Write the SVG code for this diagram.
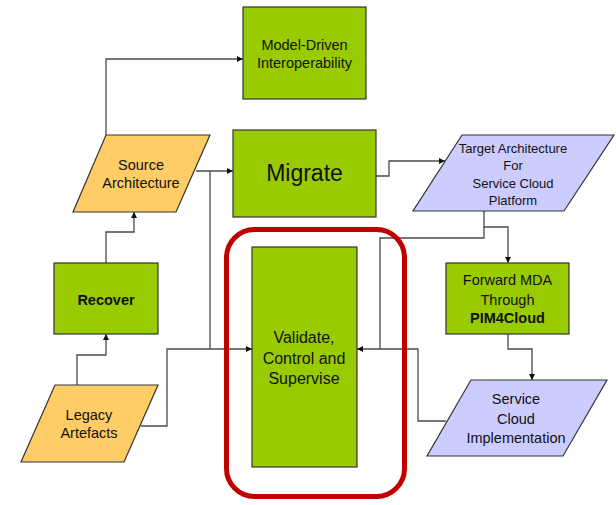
<svg xmlns="http://www.w3.org/2000/svg" width="616" height="505" viewBox="0 0 616 505">
  <style>
    .proc { fill: #99cc00; stroke: #333333; stroke-width: 1.2; }
    .src { fill: #ffcc66; stroke: #333333; stroke-width: 1.2; }
    .tgt { fill: #ccccff; stroke: #333333; stroke-width: 1.2; }
    .lbl { font-family: "Liberation Sans", Arial, sans-serif; font-size: 14.5px; fill: #111111; text-anchor: middle; }
    .bold { font-weight: bold; }
    .edge { fill: none; stroke: #4a4a4a; stroke-width: 1.3; }
    .arrow { marker-end: url(#head); }
  </style>
  <defs>
    <marker id="head" viewBox="0 0 8 8" refX="8" refY="4" markerWidth="6" markerHeight="6" markerUnits="userSpaceOnUse" orient="auto">
      <path d="M0,0 L8,4 L0,8 Z" fill="#111111"/>
    </marker>
  </defs>

  <rect width="616" height="505" fill="#ffffff"/>

  <!-- connectors -->
  <g id="connectors">
    <path class="edge arrow" d="M106,135 V59 H243"/>
    <path class="edge arrow" d="M196,171 H233"/>
    <path class="edge" d="M210,171 V349"/>
    <path class="edge arrow" d="M376,176 H389 V161 H445"/>
    <path class="edge arrow" d="M484,211 V227 H508 V263"/>
    <path class="edge" d="M484,227 V238 H380 V349"/>
    <path class="edge arrow" d="M508,334 V349 H532 V380"/>
    <path class="edge arrow" d="M446,421 H418 V349 H357"/>
    <path class="edge arrow" d="M106,263 V232 H134 V212"/>
    <path class="edge arrow" d="M77,385 V355 H106 V334"/>
    <path class="edge arrow" d="M141,426 H167 V349 H252"/>
  </g>

  <!-- highlight frame around the validation step -->
  <rect id="focus-frame" x="226.5" y="229.5" width="178" height="267" rx="28" ry="28" fill="none" stroke="#c00000" stroke-width="5"/>

  <g id="model-driven">
    <rect class="proc" x="243" y="7" width="123" height="92"/>
    <text class="lbl" x="304.5" y="50">Model-Driven</text>
    <text class="lbl" x="304.5" y="68">Interoperability</text>
  </g>

  <g id="source-architecture">
    <polygon class="src" points="106,135 210,135 176,212 73,212"/>
    <text class="lbl" x="141" y="170">Source</text>
    <text class="lbl" x="141" y="188">Architecture</text>
  </g>

  <g id="migrate">
    <rect class="proc" x="233" y="130" width="143" height="87"/>
    <text class="lbl" x="304.5" y="181" style="font-size:23px">Migrate</text>
  </g>

  <g id="target-architecture">
    <polygon class="tgt" points="462,135 614,135 564,211 413,211"/>
    <text class="lbl" x="513" y="152.5" style="font-size:13px">Target Architecture</text>
    <text class="lbl" x="513" y="169.5" style="font-size:13px">For</text>
    <text class="lbl" x="513" y="187.5" style="font-size:13px">Service Cloud</text>
    <text class="lbl" x="513" y="204.5" style="font-size:13px">Platform</text>
  </g>

  <g id="forward-mda">
    <rect class="proc" x="446" y="263" width="123" height="71"/>
    <text class="lbl" x="507.5" y="285">Forward MDA</text>
    <text class="lbl" x="507.5" y="305">Through</text>
    <text class="lbl bold" x="507.5" y="323">PIM4Cloud</text>
  </g>

  <g id="service-cloud">
    <polygon class="tgt" points="471,380 607,380 563,456 427,456"/>
    <text class="lbl" x="516" y="404">Service</text>
    <text class="lbl" x="516" y="424">Cloud</text>
    <text class="lbl" x="516" y="443">Implementation</text>
  </g>

  <g id="validate">
    <rect class="proc" x="252" y="247" width="105" height="220"/>
    <text class="lbl" x="304" y="343" style="font-size:16px">Validate,</text>
    <text class="lbl" x="304" y="364" style="font-size:16px">Control and</text>
    <text class="lbl" x="304" y="384" style="font-size:16px">Supervise</text>
  </g>

  <g id="recover">
    <rect class="proc" x="54" y="263" width="104" height="71"/>
    <text class="lbl bold" x="106" y="305">Recover</text>
  </g>

  <g id="legacy-artefacts">
    <polygon class="src" points="55,385 158,385 124,462 21,462"/>
    <text class="lbl" x="89" y="420">Legacy</text>
    <text class="lbl" x="89" y="438">Artefacts</text>
  </g>
</svg>
